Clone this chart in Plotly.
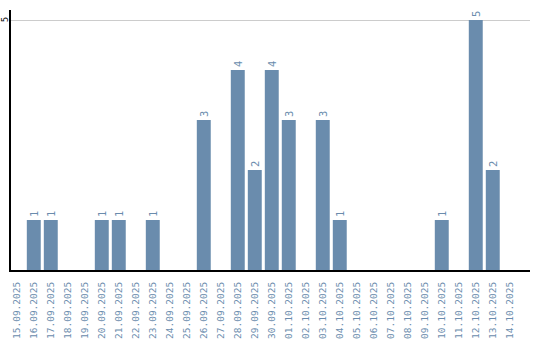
import plotly.graph_objects as go

dates = ["15.09.2025", "16.09.2025", "17.09.2025", "18.09.2025", "19.09.2025", "20.09.2025",
         "21.09.2025", "22.09.2025", "23.09.2025", "24.09.2025", "25.09.2025", "26.09.2025",
         "27.09.2025", "28.09.2025", "29.09.2025", "30.09.2025", "01.10.2025", "02.10.2025",
         "03.10.2025", "04.10.2025", "05.10.2025", "06.10.2025", "07.10.2025", "08.10.2025",
         "09.10.2025", "10.10.2025", "11.10.2025", "12.10.2025", "13.10.2025", "14.10.2025"]
counts = [0, 1, 1, 0, 0, 1, 1, 0, 1, 0, 0, 3, 0, 4, 2, 4, 3, 0, 3, 1,
          0, 0, 0, 0, 0, 1, 0, 5, 2, 0]
y_ticks = [5]

labels = [str(v) if v > 0 else "" for v in counts]
color = "#6a8cad"

fig = go.Figure(go.Bar(
    x=list(range(len(dates))), y=counts, text=labels,
    textposition="outside", textangle=-90, cliponaxis=False, constraintext="none",
    textfont=dict(family="DejaVu Sans Mono", size=10.5, color=color),
    marker=dict(color=color, line=dict(width=0)),
))

fig.update_layout(
    width=540, height=340, margin=dict(l=11, r=10, t=10, b=70),
    plot_bgcolor="white", paper_bgcolor="white", showlegend=False, bargap=0.18,
)
fig.update_xaxes(
    range=[-0.34, 30.19], tickmode="array", tickvals=list(range(len(dates))), ticktext=dates,
    tickangle=-90, tickfont=dict(family="DejaVu Sans Mono", size=9.5, color=color),
    showgrid=False, showline=True, linecolor="black", linewidth=2, ticks="", zeroline=False,
    automargin=False, ticklabelstandoff=6,
)
fig.update_yaxes(
    range=[0, 5.2], tickmode="array", tickvals=y_ticks, showticklabels=False,
    showgrid=True, gridcolor="#cccccc", gridwidth=1, showline=True, linecolor="black",
    linewidth=2, ticks="", zeroline=False, automargin=False,
)
for t in y_ticks:
    fig.add_annotation(
        x=-6 / 519, xref="paper", y=t, yref="y", text=str(t), textangle=-90,
        showarrow=False, xanchor="center", yanchor="middle",
        font=dict(family="DejaVu Sans", size=8, color="black"),
    )

fig.write_html("out.html")
